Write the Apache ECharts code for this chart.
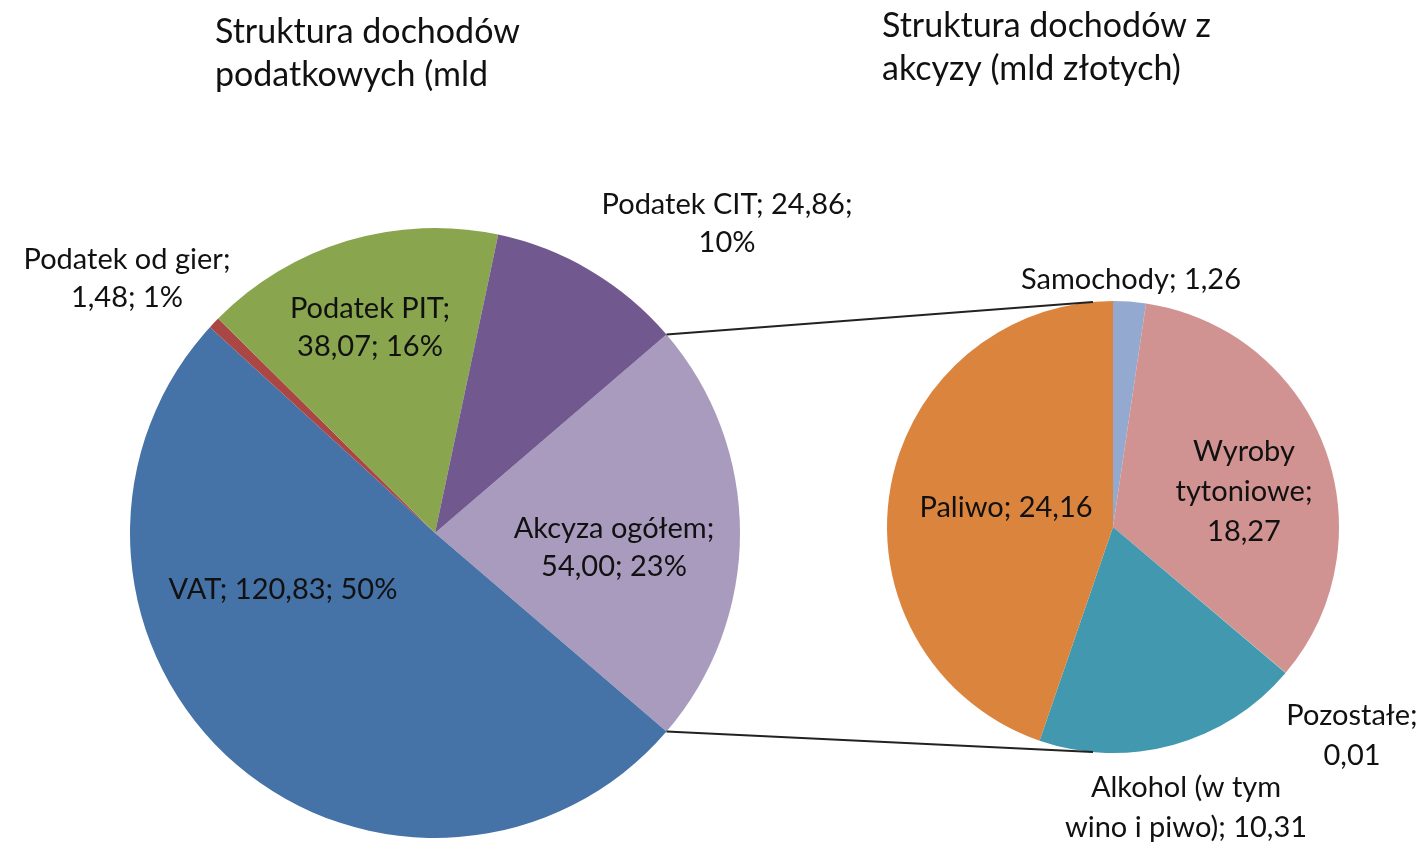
<!DOCTYPE html>
<html>
<head>
<meta charset="utf-8">
<script src="https://cdn.jsdelivr.net/npm/echarts@6/dist/echarts.min.js"></script>
<style>
  html, body { margin: 0; padding: 0; background: #fff; }
  #chart { width: 1426px; height: 845px; }
</style>
</head>
<body>
<div id="chart"></div>
<script>
// dochody podatkowe (mld zł) - kolejność zgodnie z ruchem wskazówek zegara od akcyzy
const taxNames = ['Akcyza ogółem', 'VAT', 'Podatek od gier', 'Podatek PIT', 'Podatek CIT'];
const taxValues = [54.00, 120.83, 1.48, 38.07, 24.86];
const taxLabels = ['{n};\n{v}; {p}', '{n}; {v}; {p}', '{n};\n{v}; {p}', '{n};\n{v}; {p}', '{n}; {v};\n{p}'];

// struktura akcyzy (mld zł) - od góry zgodnie z ruchem wskazówek zegara
const exciseNames = ['Samochody', 'Wyroby tytoniowe', 'Pozostałe', 'Alkohol (w tym wino i piwo)', 'Paliwo'];
const exciseValues = [1.26, 18.27, 0.01, 10.31, 24.16];
const exciseLabels = ['{n}; {v}', 'Wyroby\ntytoniowe;\n{v}', '{n};\n{v}', 'Alkohol (w tym\nwino i piwo); {v}', '{n}; {v}'];

const taxColors = ['#A99BBD', '#4572A7', '#AA4643', '#89A54E', '#71588F'];
const exciseColors = ['#93A9CF', '#D19392', '#B9CD96', '#4198AF', '#DB843D'];

// layout
const P1 = { cx: 435, cy: 533, r: 305 };
const P2 = { cx: 1113, cy: 527, r: 226 };
const taxLabelPos = [[614, 548], [283, 590], [127, 279], [370, 328], [727, 224]];
const exciseLabelPos = [[1131, 280], [1244, 492], [1352, 736], [1186, 808], [1006, 508]];

const FONT = 'Lato, "Open Sans", sans-serif';

function num(v) { return v.toFixed(2).replace('.', ','); }
function fill(tpl, name, v, p) {
  return tpl.replace('{n}', name).replace('{v}', num(v)).replace('{p}', p + '%');
}

const total = taxValues.reduce((a, b) => a + b, 0);
const half = taxValues[0] / total * 180;
const rad = half * Math.PI / 180;
const topEdge = [P1.cx + P1.r * Math.cos(rad), P1.cy - P1.r * Math.sin(rad)];
const botEdge = [P1.cx + P1.r * Math.cos(rad), P1.cy + P1.r * Math.sin(rad)];

const chart = echarts.init(document.getElementById('chart'));
chart.setOption({
  backgroundColor: '#fff',
  animation: false,
  textStyle: { fontFamily: FONT },
  title: [
    { text: 'Struktura dochodów\npodatkowych (mld', left: 210, top: 6,
      textStyle: { fontFamily: FONT, fontSize: 34, fontWeight: 'normal', color: '#111', lineHeight: 43 } },
    { text: 'Struktura dochodów z\nakcyzy (mld złotych)', left: 877, top: 0,
      textStyle: { fontFamily: FONT, fontSize: 34, fontWeight: 'normal', color: '#111', lineHeight: 43 } }
  ],
  graphic: [
    { type: 'line', shape: { x1: topEdge[0], y1: topEdge[1], x2: P2.cx - 20, y2: P2.cy - P2.r + 1 },
      style: { stroke: '#222', lineWidth: 2 }, z: 10 },
    { type: 'line', shape: { x1: botEdge[0], y1: botEdge[1], x2: P2.cx - 20, y2: P2.cy + P2.r - 1 },
      style: { stroke: '#222', lineWidth: 2 }, z: 10 }
  ],
  series: [
    {
      type: 'pie',
      center: [P1.cx, P1.cy],
      radius: [0, P1.r],
      startAngle: half,
      clockwise: true,
      percentPrecision: 0,
      avoidLabelOverlap: false,
      itemStyle: { borderWidth: 0 },
      label: {
        show: true,
        position: 'inside',
        fontFamily: FONT,
        fontSize: 29,
        lineHeight: 38,
        color: '#111',
        formatter: p => fill(taxLabels[p.dataIndex], p.name, p.value, p.percent)
      },
      labelLine: { show: false },
      labelLayout: p => ({ x: taxLabelPos[p.dataIndex][0], y: taxLabelPos[p.dataIndex][1], align: 'center', verticalAlign: 'middle' }),
      data: taxNames.map((n, i) => ({ name: n, value: taxValues[i], itemStyle: { color: taxColors[i] } }))
    },
    {
      type: 'pie',
      center: [P2.cx, P2.cy],
      radius: [0, P2.r],
      startAngle: 90,
      clockwise: true,
      avoidLabelOverlap: false,
      itemStyle: { borderWidth: 0 },
      label: {
        show: true,
        position: 'inside',
        fontFamily: FONT,
        fontSize: 29,
        lineHeight: 40,
        color: '#111',
        formatter: p => fill(exciseLabels[p.dataIndex], p.name, p.value, p.percent)
      },
      labelLine: { show: false },
      labelLayout: p => ({ x: exciseLabelPos[p.dataIndex][0], y: exciseLabelPos[p.dataIndex][1], align: 'center', verticalAlign: 'middle' }),
      data: exciseNames.map((n, i) => ({ name: n, value: exciseValues[i], itemStyle: { color: exciseColors[i] } }))
    }
  ]
});
</script>
</body>
</html>
